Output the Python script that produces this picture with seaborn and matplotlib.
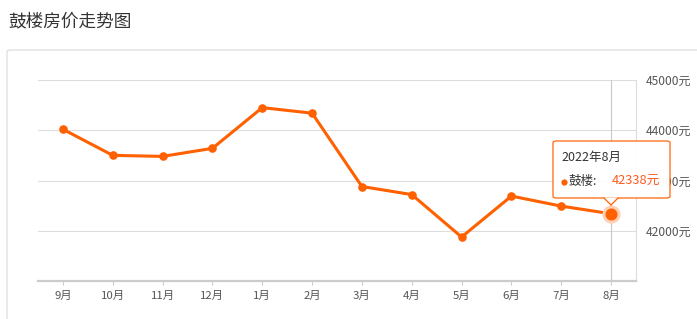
import matplotlib
matplotlib.use("Agg")
import matplotlib.pyplot as plt
from matplotlib.patches import FancyBboxPatch, Polygon
import seaborn as sns
import pandas as pd

# ---- data ----
months = ["9月", "10月", "11月", "12月", "1月", "2月", "3月", "4月", "5月", "6月", "7月", "8月"]
prices = [44020, 43500, 43480, 43640, 44450, 44340, 42880, 42720, 41875, 42690, 42490, 42338]
ytick_values = [42000, 43000, 44000, 45000]
ytick_labels = ["42000元", "43000元", "44000元", "45000元"]
title = "鼓楼房价走势图"
series_name = "鼓楼"
tooltip_title = "2022年8月"

ORANGE = "#ff6000"
W, H = 697, 319

sns.set_theme(style="white")
plt.rcParams["font.family"] = ["Noto Sans CJK SC", "DejaVu Sans"]

fig = plt.figure(figsize=(W / 100, H / 100), dpi=100)

def fx(px):
    return px / W

def fy(py):
    return (H - py) / H

# outer panel border (rounded, only top/left visible)
panel = FancyBboxPatch((fx(7), fy(400)), fx(800), fy(50) - fy(400),
                       boxstyle="round,pad=0,rounding_size=0.006",
                       transform=fig.transFigure, facecolor="white",
                       edgecolor="#dcdcdc", linewidth=0.9, zorder=-1)
fig.patches.append(panel)

fig.text(fx(8), fy(21), title, fontsize=12.7, color="#333333", va="center", ha="left")

ax = fig.add_axes([fx(38), fy(281), fx(636) - fx(38), fy(80) - fy(281)])
ax.set_facecolor("none")

df = pd.DataFrame({"month": months, "price": prices})
sns.lineplot(data=df, x="month", y="price", sort=False, ax=ax, color=ORANGE,
             linewidth=2.2, marker="o", markersize=6.2, markeredgewidth=0,
             zorder=4)

n = len(months)
ax.set_xlim(-0.5, n - 0.5)
ax.set_ylim(41000, 45000)

# crosshair on last point
ax.axvline(n - 1, color="#c8c8c8", linewidth=0.8, zorder=2)

# highlighted last point
ax.scatter([n - 1], [prices[-1]], s=170, color="#ffcfb3", linewidths=0, zorder=5)
ax.scatter([n - 1], [prices[-1]], s=75, color=ORANGE, linewidths=0, zorder=6)

ax.set_yticks(ytick_values)
ax.set_yticklabels(ytick_labels)
ax.yaxis.tick_right()
ax.grid(axis="y", color="#dddddd", linewidth=0.8)
ax.grid(axis="x", visible=False)
ax.tick_params(axis="y", length=0, pad=7, labelsize=8.7, labelcolor="#555555")
ax.tick_params(axis="x", length=3, width=0.8, color="#cccccc", pad=4,
               labelsize=8.2, labelcolor="#555555", bottom=True)
ax.set_xlabel("")
ax.set_ylabel("")

for s in ["top", "left"]:
    ax.spines[s].set_visible(False)
ax.spines["bottom"].set_color("#cccccc")
ax.spines["bottom"].set_linewidth(1.6)
ax.spines["right"].set_color("#dddddd")
ax.spines["right"].set_linewidth(0.8)

# ---- tooltip ----
bx0, bx1, by0, by1 = 553, 670, 141, 198
box = FancyBboxPatch((fx(bx0), fy(by1)), fx(bx1) - fx(bx0), fy(by0) - fy(by1),
                     boxstyle="round,pad=0,rounding_size=0.005",
                     transform=fig.transFigure, facecolor="white", alpha=0.96,
                     edgecolor=ORANGE, linewidth=0.9, zorder=10)
fig.patches.append(box)
tri = Polygon([(fx(604), fy(197.5)), (fx(618), fy(197.5)), (fx(611), fy(205))],
              closed=True, transform=fig.transFigure, facecolor="white",
              edgecolor="none", zorder=11)
fig.patches.append(tri)
tri_edge = matplotlib.lines.Line2D([fx(604), fx(611), fx(618)],
                                   [fy(198), fy(205), fy(198)],
                                   transform=fig.transFigure, color=ORANGE,
                                   linewidth=0.9, zorder=12)
fig.lines.append(tri_edge)

fig.text(fx(561), fy(157), tooltip_title, fontsize=9, color="#333333",
         va="center", ha="left", zorder=13)
dot = matplotlib.lines.Line2D([fx(563.5)], [fy(181.5)], transform=fig.transFigure,
                              marker="o", markersize=4.5, color=ORANGE,
                              markeredgewidth=0, linestyle="none", zorder=13)
fig.lines.append(dot)
fig.text(fx(569), fy(181), series_name + ":", fontsize=9, color="#333333",
         va="center", ha="left", zorder=13)
fig.text(fx(612), fy(181), f"{prices[-1]}元", fontsize=9.2, color="#ff5a1f",
         va="center", ha="left", zorder=13)

fig.savefig("out.png", dpi=100)
